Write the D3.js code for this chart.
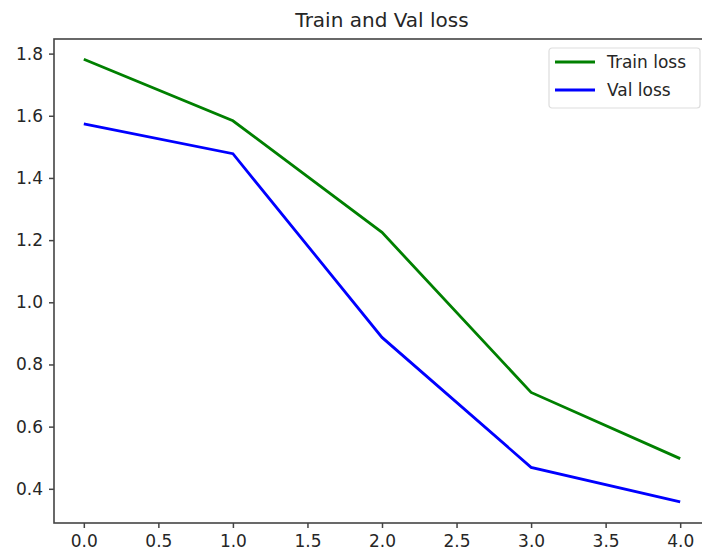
<!DOCTYPE html>
<meta charset="utf-8">
<style>
body { margin: 0; background: #fff; }
text { font-family: "DejaVu Sans", sans-serif; fill: #262626; }
.axis path, .axis line { stroke: #444; }
</style>
<div id="chart"></div>
<script src="https://cdn.jsdelivr.net/npm/d3@7"></script>
<script>
var epochs = [0, 1, 2, 3, 4];
var trainLoss = [1.782, 1.584, 1.225, 0.710, 0.497];
var valLoss = [1.574, 1.478, 0.887, 0.469, 0.358];
var xTicks = [0, 0.5, 1, 1.5, 2, 2.5, 3, 3.5, 4];
var yTicks = [0.4, 0.6, 0.8, 1.0, 1.2, 1.4, 1.6, 1.8];
var seriesNames = ["Train loss", "Val loss"];
var seriesColors = ["#008000", "#0000ff"];

var w = 702, h = 559;
var padL = 54, padR = 710, padT = 39, padB = 523;

var svg = d3.select("#chart").append("svg")
  .attr("width", w).attr("height", h);

var x = d3.scaleLinear().domain([-0.2, 4.2]).range([padL, padR]);
var y = d3.scaleLinear().domain([0.290, 1.847]).range([padB, padT]);

// axes
var xAxis = d3.axisBottom(x).tickValues(xTicks).tickSize(5).tickPadding(7)
  .tickFormat(d3.format(".1f"));
var yAxis = d3.axisLeft(y).tickValues(yTicks).tickSize(5).tickPadding(6)
  .tickFormat(d3.format(".1f"));

var gx = svg.append("g").attr("class", "axis")
  .attr("transform", "translate(0," + padB + ")").call(xAxis);
var gy = svg.append("g").attr("class", "axis")
  .attr("transform", "translate(" + padL + ",0)").call(yAxis);
[gx, gy].forEach(function (g) {
  g.select(".domain").remove();
  g.selectAll("line").attr("stroke-width", 1.5);
  g.selectAll("text").style("font-size", "17px").attr("fill", "#262626");
});

// spines
svg.append("rect")
  .attr("x", padL).attr("y", padT)
  .attr("width", padR - padL).attr("height", padB - padT)
  .attr("fill", "none").attr("stroke", "#444").attr("stroke-width", 1.6);

// lines
var line = d3.line()
  .x(function (d, i) { return x(epochs[i]); })
  .y(function (d) { return y(d); });

[trainLoss, valLoss].forEach(function (vals, k) {
  svg.append("path")
    .datum(vals)
    .attr("d", line)
    .attr("fill", "none")
    .attr("stroke", seriesColors[k])
    .attr("stroke-width", 2.8);
});

// title
svg.append("text")
  .attr("x", (padL + padR) / 2).attr("y", 27)
  .attr("text-anchor", "middle")
  .style("font-size", "20px")
  .text("Train and Val loss");

// legend
var lg = svg.append("g").attr("transform", "translate(549,48)");
lg.append("rect")
  .attr("width", 151).attr("height", 60).attr("rx", 3)
  .attr("fill", "#fff").attr("stroke", "#ddd").attr("stroke-width", 1.2);
seriesNames.forEach(function (name, k) {
  var yy = 14 + k * 28;
  lg.append("line")
    .attr("x1", 6).attr("x2", 46).attr("y1", yy).attr("y2", yy)
    .attr("stroke", seriesColors[k]).attr("stroke-width", 2.8);
  lg.append("text")
    .attr("x", 58).attr("y", yy + 6)
    .style("font-size", "17px")
    .text(name);
});
</script>
